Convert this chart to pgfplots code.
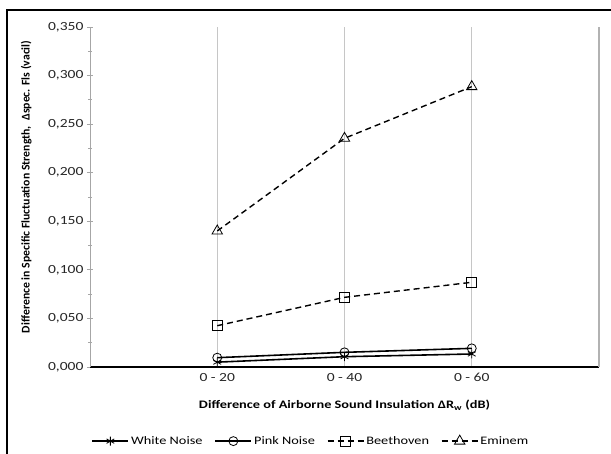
\documentclass[border=0pt]{standalone}
\usepackage{pgfplots}
\pgfplotsset{compat=1.18}
\usepackage{fontspec}
\setmainfont{Carlito}
\newfontfamily\lblfont{Carlito}[FakeStretch=1.25]
\begin{document}
\begin{tikzpicture}
\begin{axis}[
  at={(90bp,87bp)}, anchor=south west,
  scale only axis, width=509bp, height=340bp,
  xmin=0, xmax=4, ymin=0, ymax=0.35,
  axis lines=left,
  x axis line style={black, line width=1.1pt, -},
  y axis line style={gray!70, line width=1pt, -},
  xtick={1,2,3}, xticklabels={0 - 20, 0 - 40, 0 - 60},
  extra x ticks={4}, extra x tick labels={},
  xmajorgrids, grid style={gray!45, line width=0.8pt},
  extra x tick style={grid=major, major grid style={gray!60, line width=1.2pt}},
  xtick style={draw=none},
  ytick={0,0.05,...,0.351},
  minor y tick num=1,
  ytick style={gray!70, line width=0.8pt},
  tick align=center, major tick length=6bp, minor tick length=4bp,
  yticklabel style={/pgf/number format/.cd, fixed, fixed zerofill, precision=3, use comma, assume math mode=true},
  ticklabel style={font=\lblfont\fontsize{12.5}{14}\selectfont, text=black!85},
  xlabel={\textbf{Difference of Airborne Sound Insulation ΔR\textsubscript{w} (dB)}},
  xlabel style={at={(axis description cs:0.5,-0.112)}, anchor=center, font=\lblfont\fontsize{11.5}{13}\selectfont},
  ylabel={\textbf{Difference in Specific Fluctuation Strength,\ \ Δspec. Fls (vacil)}},
  ylabel style={at={(axis description cs:-0.125,0.53)}, anchor=center, font=\fontsize{11.8}{13}\selectfont},
  legend style={at={(axis description cs:0.434,-0.218)}, anchor=center, draw=none, legend columns=4,
    font=\lblfont\fontsize{11.5}{13}\selectfont, /tikz/every even column/.append style={column sep=10bp}},
  legend image code/.code={\draw[mark repeat=2,mark phase=2] plot coordinates {(0bp,0bp) (18bp,0bp) (36bp,0bp)};},
  every axis plot/.append style={black, mark options={solid, fill=white, line width=0.8pt}},
]
\addplot[line width=1.6pt, mark=asterisk, mark size=4.5bp] coordinates {(1,0.005) (2,0.0106) (3,0.0134)};
\addlegendentry{White Noise}
\addplot[line width=1.6pt, mark=o, mark size=4.5bp] coordinates {(1,0.0096) (2,0.0151) (3,0.0192)};
\addlegendentry{Pink Noise}
\addplot[line width=1.4pt, dash pattern=on 6bp off 4bp, mark=square, mark size=5bp] coordinates {(1,0.0425) (2,0.0717) (3,0.0872)};
\addlegendentry{Beethoven}
\addplot[line width=1.4pt, dash pattern=on 6bp off 4bp, mark=triangle, mark size=6bp] coordinates {(1,0.140) (2,0.2354) (3,0.2886)};
\addlegendentry{Eminem}
\end{axis}
\draw[black, line width=1.2pt] (7bp,0bp) -- (7bp,444bp) -- (620bp,444bp);
\pgfresetboundingbox
\useasboundingbox (0,0) rectangle (611bp,454bp);
\end{tikzpicture}
\end{document}
